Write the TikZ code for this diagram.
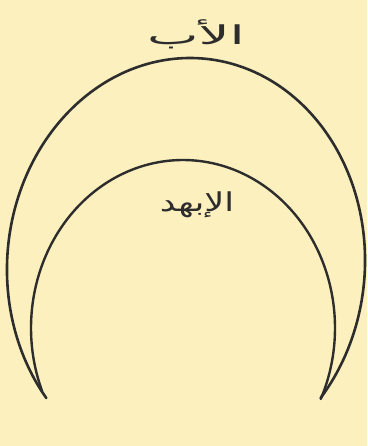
\documentclass[tikz,border=0pt]{standalone}
\usepackage{fontspec}
\newfontfamily\arabicfont[Script=Arabic]{DejaVu Sans}
\TeXXeTstate=1
\definecolor{paper}{RGB}{252,240,191}
\definecolor{ink}{RGB}{45,45,45}
\begin{document}
\begin{tikzpicture}[x=1pt,y=-1pt,
  curve/.style={draw=ink,line width=2.6pt,line cap=round},
  label/.style={text=ink,font=\arabicfont\fontsize{26}{30}\selectfont,transform shape,inner sep=0pt}]
\fill[paper] (0,0) rectangle (367,446);
\useasboundingbox (0,0) rectangle (367,446);
% outer arc
\draw[curve] plot[domain=140:400,samples=150,smooth] ({186+179*cos(\x)-4*sin(\x)},{265+207*sin(\x)});
% inner arc
\draw[curve,line width=2.4pt] plot[domain=158:385,samples=150,smooth] ({183+152*cos(\x)},{328+168*sin(\x)});
\node[label,xscale=2.1] (ab) at (196,34) {\beginR الأب\endR};
\node[label,xscale=1.35] (abhar) at (197,205) {\beginR الإبهد\endR};
\end{tikzpicture}
\end{document}
